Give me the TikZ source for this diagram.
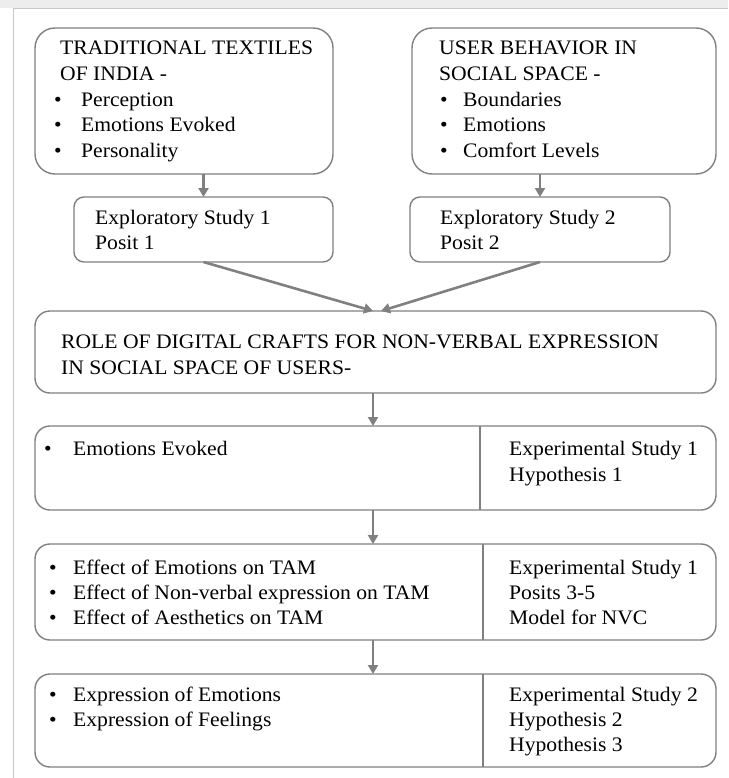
\documentclass[tikz,border=0pt]{standalone}
\usepackage{fontspec}
\setmainfont{Liberation Serif}[FakeStretch=1.05]
\usetikzlibrary{arrows.meta}
\definecolor{edge}{HTML}{808080}
\definecolor{framegray}{HTML}{C8C8C8}
\definecolor{bandgray}{HTML}{EDEDED}
\tikzset{
  panel/.style={draw=edge, line width=1.4pt, rounded corners=15pt,
    anchor=north west, inner sep=0pt, outer sep=0pt},
  topic/.style={panel, rounded corners=20pt},
  studybox/.style={draw=edge, line width=1.4pt, rounded corners=10pt,
    anchor=north west, inner sep=0pt, outer sep=0pt},
  flow/.style={draw=edge, line width=2.6pt,
    -{Triangle[length=9pt,width=10pt]}},
  divider/.style={draw=edge, line width=1.2pt},
  txt/.style={anchor=base west, inner sep=0pt,
    font=\fontsize{20.6}{25}\selectfont},
  dot/.style={anchor=base, inner sep=0pt,
    font=\fontsize{20.6}{25}\selectfont},
}
\begin{document}
\begin{tikzpicture}[x=1pt,y=-1pt]
  \useasboundingbox (0,0) rectangle (728,778);
  % page band and frame lines
  \fill[bandgray] (0,0) rectangle (728,8);
  \coordinate (fbl) at (13,778);
  \coordinate (ftl) at (13,9);
  \coordinate (ftr) at (728,9);
  \draw[framegray, line width=1pt] (fbl) -- (ftl) -- (ftr);

  % boxes
  \node[topic, minimum width=298pt, minimum height=146pt] (boxA) at (35,28) {};
  \node[topic, minimum width=304pt, minimum height=146pt] (boxB) at (412,28) {};
  \node[studybox, minimum width=259pt, minimum height=65pt] (expA) at (74,197) {};
  \node[studybox, minimum width=260pt, minimum height=65pt] (expB) at (410,197) {};
  \node[panel, minimum width=681pt, minimum height=82pt] (role) at (35,311) {};
  \node[panel, minimum width=681pt, minimum height=84pt] (eA) at (35,426) {};
  \node[panel, minimum width=681pt, minimum height=96pt] (eB) at (35,544) {};
  \node[panel, minimum width=681pt, minimum height=93pt] (eC) at (35,674) {};

  % column dividers
  \coordinate (dA) at (480,0);
  \coordinate (dB) at (483,0);
  \draw[divider] (eA.north -| dA) -- (eA.south -| dA);
  \draw[divider] (eB.north -| dB) -- (eB.south -| dB);
  \draw[divider] (eC.north -| dB) -- (eC.south -| dB);

  % connectors
  \coordinate (spine) at (373,0);
  \coordinate (tipL) at (373,311);
  \coordinate (tipR) at (381,311);
  \draw[flow] (boxA.south -| expA.north) -- (expA.north);
  \draw[flow] (boxB.south -| expB.north) -- (expB.north);
  \draw[flow] (expA.south) -- (tipL);
  \draw[flow] (expB.south) -- (tipR);
  \draw[flow] (role.south -| spine) -- (eA.north -| spine);
  \draw[flow] (eA.south -| spine) -- (eB.north -| spine);
  \draw[flow] (eB.south -| spine) -- (eC.north -| spine);

  % traditional textiles
  \node[txt] (a1) at (60,55) {TRADITIONAL TEXTILES};
  \node[txt] (a2) at (60,80.5) {OF INDIA -};
  \node[dot] (a3d) at (58,106.5) {\textbullet};
  \node[txt] (a3) at (81,106.5) {Perception};
  \node[dot] (a4d) at (58,132) {\textbullet};
  \node[txt] (a4) at (81,132) {Emotions Evoked};
  \node[dot] (a5d) at (58,158) {\textbullet};
  \node[txt] (a5) at (81,158) {Personality};

  % user behaviour
  \node[txt] (b1) at (439,55) {USER BEHAVIOR IN};
  \node[txt] (b2) at (439,80.5) {SOCIAL SPACE -};
  \node[dot] (b3d) at (444,106.5) {\textbullet};
  \node[txt] (b3) at (463,106.5) {Boundaries};
  \node[dot] (b4d) at (444,132) {\textbullet};
  \node[txt] (b4) at (463,132) {Emotions};
  \node[dot] (b5d) at (444,158) {\textbullet};
  \node[txt] (b5) at (463,158) {Comfort Levels};

  % exploratory studies
  \node[txt] (x1) at (95,224) {Exploratory Study 1};
  \node[txt] (x2) at (95,249) {Posit 1};
  \node[txt] (y1) at (440,224) {Exploratory Study 2};
  \node[txt] (y2) at (440,249) {Posit 2};

  % role of digital crafts
  \node[txt] (r1) at (61,348) {ROLE OF DIGITAL CRAFTS FOR NON-VERBAL EXPRESSION};
  \node[txt] (r2) at (61,374) {IN SOCIAL SPACE OF USERS-};

  % experimental study 1, hypothesis 1
  \node[dot] (p1d) at (48,455) {\textbullet};
  \node[txt] (p1) at (73,455) {Emotions Evoked};
  \node[txt] (q1) at (509,455) {Experimental Study 1};
  \node[txt] (q2) at (509,481) {Hypothesis 1};

  % experimental study 1, posits 3-5
  \node[dot] (s1d) at (53,574) {\textbullet};
  \node[txt] (s1) at (73,574) {Effect of Emotions on TAM};
  \node[dot] (s2d) at (53,599) {\textbullet};
  \node[txt] (s2) at (73,599) {Effect of Non-verbal expression on TAM};
  \node[dot] (s3d) at (53,624) {\textbullet};
  \node[txt] (s3) at (73,624) {Effect of Aesthetics on TAM};
  \node[txt] (t1) at (509,574) {Experimental Study 1};
  \node[txt] (t2) at (509,599) {Posits 3-5};
  \node[txt] (t3) at (509,624) {Model for NVC};

  % experimental study 2
  \node[dot] (u1d) at (53,701) {\textbullet};
  \node[txt] (u1) at (73,701) {Expression of Emotions};
  \node[dot] (u2d) at (53,726) {\textbullet};
  \node[txt] (u2) at (73,726) {Expression of Feelings};
  \node[txt] (v1) at (509,701) {Experimental Study 2};
  \node[txt] (v2) at (509,726) {Hypothesis 2};
  \node[txt] (v3) at (509,751) {Hypothesis 3};
\end{tikzpicture}
\end{document}
